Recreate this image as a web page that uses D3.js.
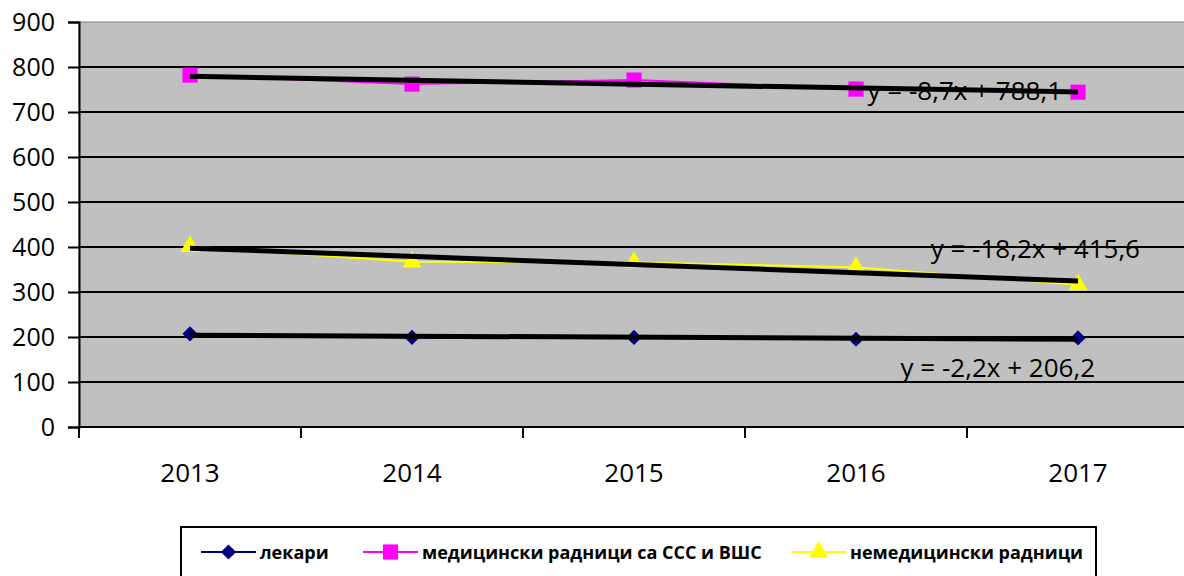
<html>
    <head>
        <meta charset="utf-8">
        <title>chart</title>
        <script src="https://d3js.org/d3.v7.min.js"></script>
        <style>
            body { margin: 0; background: #fff; }
            svg text { font-family: "Open Sans", "Noto Sans", sans-serif; }
        </style>
    </head>
    <body>
        <div id="chart"></div>
        <script>
            // données
            const years = ["2013", "2014", "2015", "2016", "2017"];
            const lekari = [207, 199, 199, 195, 198];
            const medicinski = [782, 762, 771, 751, 744];
            const nemedicinski = [401, 367, 366, 355, 316];
            const yTicks = [0, 100, 200, 300, 400, 500, 600, 700, 800, 900];
            const seriesNames = ["лекари", "медицински радници са ССС и ВШС", "немедицински радници"];
            const trendLabels = ["y = -2,2x + 206,2", "y = -8,7x + 788,1", "y = -18,2x + 415,6"];

            const W = 1184, H = 576;
            const mLeft = 79, mTop = 22, plotW = 1110, plotH = 405;

            const svg = d3.select("#chart").append("svg")
                .attr("width", W).attr("height", H);

            const x = d3.scaleBand().domain(years).range([mLeft, mLeft + plotW]);
            const y = d3.scaleLinear().domain([0, 900]).range([mTop + plotH, mTop]);
            const cx = d => x(d) + x.bandwidth() / 2;

            // fond de la zone de tracé
            svg.append("rect")
                .attr("x", mLeft).attr("y", mTop)
                .attr("width", plotW).attr("height", plotH)
                .attr("fill", "#c0c0c0")
                .attr("stroke", "#808080").attr("stroke-width", 1);

            // grille horizontale
            svg.append("g").selectAll("line")
                .data(yTicks.filter(t => t > 0 && t < 900))
                .enter().append("line")
                .attr("x1", mLeft).attr("x2", mLeft + plotW)
                .attr("y1", d => y(d)).attr("y2", d => y(d))
                .attr("stroke", "#000").attr("stroke-width", 2);

            // axe Y
            const yAxis = svg.append("g")
                .attr("transform", `translate(${mLeft},0)`)
                .call(d3.axisLeft(y).tickValues(yTicks).tickSize(11).tickPadding(13));
            yAxis.select(".domain").attr("stroke-width", 2);
            yAxis.selectAll(".tick line").attr("stroke-width", 2);
            yAxis.selectAll("text").attr("font-size", 25).attr("fill", "#000");

            // axe X
            const xAxis = svg.append("g")
                .attr("transform", `translate(0,${mTop + plotH})`);
            xAxis.append("line")
                .attr("x1", mLeft).attr("x2", mLeft + plotW)
                .attr("stroke", "#000").attr("stroke-width", 2);
            xAxis.selectAll(".xt").data(years).enter().append("line")
                .attr("x1", d => x(d)).attr("x2", d => x(d))
                .attr("y1", 0).attr("y2", 11)
                .attr("stroke", "#000").attr("stroke-width", 2);
            xAxis.selectAll("text").data(years).enter().append("text")
                .attr("x", d => cx(d)).attr("y", 55)
                .attr("text-anchor", "middle")
                .attr("font-size", 26)
                .text(d => d);

            const diamond = { draw(ctx, size) { const r = Math.sqrt(size / 2); ctx.moveTo(0, -r); ctx.lineTo(r, 0); ctx.lineTo(0, r); ctx.lineTo(-r, 0); ctx.closePath(); } };

            const series = [
                { name: seriesNames[0], values: lekari, color: "#000080", shape: diamond, size: 115 },
                { name: seriesNames[1], values: medicinski, color: "#ff00ff", shape: d3.symbolSquare, size: 230 },
                { name: seriesNames[2], values: nemedicinski, color: "#ffff00", shape: d3.symbolTriangle, size: 160 }
            ];

            const line = d3.line().x((d, i) => cx(years[i])).y(d => y(d));

            series.forEach(s => {
                svg.append("path")
                    .datum(s.values)
                    .attr("d", line)
                    .attr("fill", "none")
                    .attr("stroke", s.color)
                    .attr("stroke-width", 2);
                svg.append("g").selectAll("path")
                    .data(s.values).enter().append("path")
                    .attr("transform", (d, i) => `translate(${cx(years[i])},${y(d)})`)
                    .attr("d", d3.symbol().type(s.shape).size(s.size))
                    .attr("fill", s.color);
            });

            // droites de tendance (moindres carrés, x = 1..5)
            series.forEach(s => {
                const n = s.values.length;
                const xs = s.values.map((d, i) => i + 1);
                const mx = d3.mean(xs), my = d3.mean(s.values);
                const slope = d3.sum(xs, (xi, i) => (xi - mx) * (s.values[i] - my)) / d3.sum(xs, xi => (xi - mx) ** 2);
                const b = my - slope * mx;
                svg.append("line")
                    .attr("x1", cx(years[0])).attr("y1", y(slope * 1 + b))
                    .attr("x2", cx(years[n - 1])).attr("y2", y(slope * n + b))
                    .attr("stroke", "#000").attr("stroke-width", 5);
            });

            // équations
            const eqPos = [[1095, 377], [1062, 100], [1140, 258]];
            trendLabels.forEach((t, i) => {
                svg.append("text")
                    .attr("x", eqPos[i][0]).attr("y", eqPos[i][1])
                    .attr("text-anchor", "end")
                    .attr("font-size", 26)
                    .attr("textLength", null)
                    .text(t);
            });

            // légende
            const lg = svg.append("g");
            lg.append("rect")
                .attr("x", 181).attr("y", 527)
                .attr("width", 915).attr("height", 60)
                .attr("fill", "#fff").attr("stroke", "#000").attr("stroke-width", 2);
            const lx = [201, 363, 791];
            series.forEach((s, i) => {
                const g = lg.append("g").attr("transform", `translate(${lx[i]},552)`);
                g.append("line").attr("x1", 0).attr("x2", 55)
                    .attr("stroke", s.color).attr("stroke-width", 2);
                g.append("path").attr("transform", "translate(27.5,0)")
                    .attr("d", d3.symbol().type(s.shape).size(s.size))
                    .attr("fill", s.color);
                g.append("text").attr("x", 59).attr("y", 6.5)
                    .attr("font-size", 18).attr("font-weight", "bold")
                    .text(s.name);
            });
        </script>
    </body>
</html>
